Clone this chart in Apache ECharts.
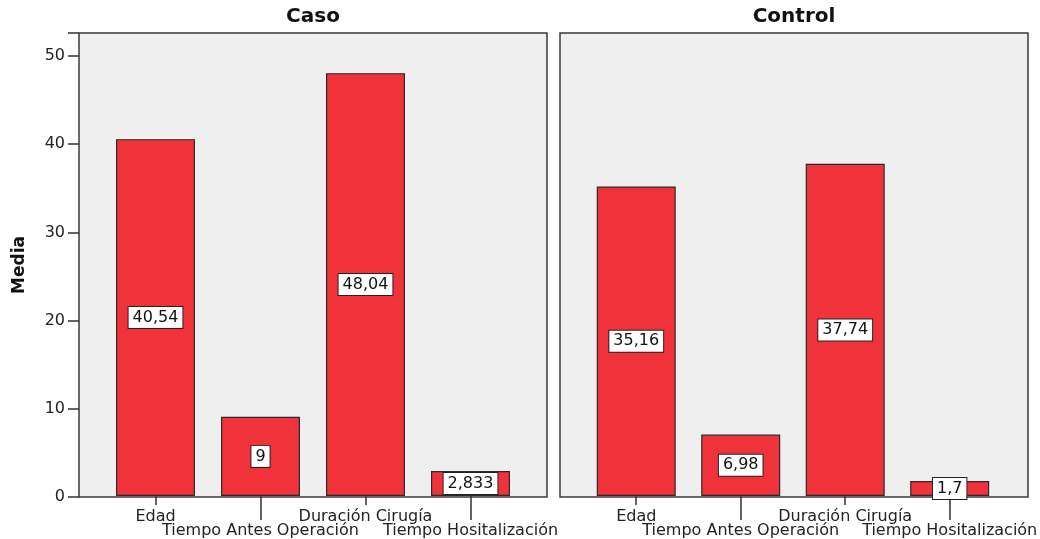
<!DOCTYPE html>
<html>
<head>
<meta charset="utf-8">
<script src="https://cdn.jsdelivr.net/npm/echarts@6/dist/echarts.min.js"></script>
<style>html,body{margin:0;padding:0;background:#fff;}#c{width:1040px;height:539px;}</style>
</head>
<body>
<div id="c"></div>
<script>
const categories = ['Edad', 'Tiempo Antes Operación', 'Duración Cirugía', 'Tiempo Hositalización'];
const panels = ['Caso', 'Control'];
const casoValues = [40.54, 9, 48.04, 2.833];
const controlValues = [35.16, 6.98, 37.74, 1.7];
const yTicks = [0, 10, 20, 30, 40, 50];

const FONT = 'DejaVu Sans';
const YMAX = 52.6;
const panelLeft = [79, 560];
const panelW = 468;
const inset = 24;
const gridTop = 33, gridH = 464;

const fmt = v => String(v).replace('.', ',');

const grids = [], xAxes = [], yAxes = [], series = [], titles = [];
panels.forEach((p, k) => {
  const vals = k === 0 ? casoValues : controlValues;
  grids.push({left: panelLeft[k], top: gridTop, width: panelW, height: gridH, show: true,
    backgroundColor: '#efefef', borderColor: '#3a3a3a', borderWidth: 1.5});
  grids.push({left: panelLeft[k] + inset, top: gridTop, width: panelW - 2 * inset, height: gridH, show: false});
  const g0 = k * 2, g1 = k * 2 + 1;
  yAxes.push({gridIndex: g0, type: 'value', min: 0, max: YMAX, interval: 10,
    name: k === 0 ? 'Media' : '', nameLocation: 'middle', nameGap: 51,
    nameTextStyle: {fontFamily: FONT, fontWeight: 'bold', fontSize: 17, color: '#111'},
    axisLine: {show: false}, splitLine: {show: false},
    axisTick: {show: k === 0, inside: false, length: 11, lineStyle: {color: '#333', width: 1.5}},
    axisLabel: {show: k === 0, margin: 14, fontFamily: FONT, fontSize: 16, color: '#222',
      formatter: v => yTicks.includes(v) ? String(v) : ''}});
  yAxes.push({gridIndex: g1, type: 'value', min: 0, max: YMAX, show: false});
  xAxes.push({gridIndex: g0, type: 'value', show: false, min: 0, max: 1});
  const xi = xAxes.length;
  xAxes.push({gridIndex: g1, type: 'category', data: categories, position: 'bottom',
    axisLine: {show: false},
    axisTick: {show: true, alignWithLabel: true, length: 9, interval: i => i % 2 === 0,
      lineStyle: {color: '#333', width: 1.5}},
    axisLabel: {interval: 0, margin: 14, fontFamily: FONT, fontSize: 16, color: '#222', lineHeight: 14,
      formatter: (v, i) => i % 2 === 1 ? '\n' + v : v}});
  xAxes.push({gridIndex: g1, type: 'category', data: categories, position: 'bottom',
    axisLine: {show: false}, axisLabel: {show: false},
    axisTick: {show: true, alignWithLabel: true, length: 24, interval: i => i % 2 === 1,
      lineStyle: {color: '#333', width: 1.5}}});
  series.push({type: 'bar', xAxisIndex: xi, yAxisIndex: yAxes.length - 1, data: vals, barWidth: 79,
    itemStyle: {color: '#f0323a', borderColor: '#2a2a2a', borderWidth: 1.2},
    label: {show: true, position: 'inside', formatter: d => fmt(d.value),
      fontFamily: FONT, fontSize: 16, color: '#111', backgroundColor: '#fff',
      borderColor: '#222', borderWidth: 1, padding: [3, 4, 2, 4], lineHeight: 16}});
  titles.push({text: p, left: panelLeft[k] + panelW / 2, top: 7, textAlign: 'center', padding: 0,
    textStyle: {fontFamily: FONT, fontWeight: 'bold', fontSize: 20, color: '#111'}});
});

const chart = echarts.init(document.getElementById('c'), null, {renderer: 'canvas'});
chart.setOption({animation: false, backgroundColor: '#fff', title: titles,
  grid: grids, xAxis: xAxes, yAxis: yAxes, series: series});
</script>
</body>
</html>
